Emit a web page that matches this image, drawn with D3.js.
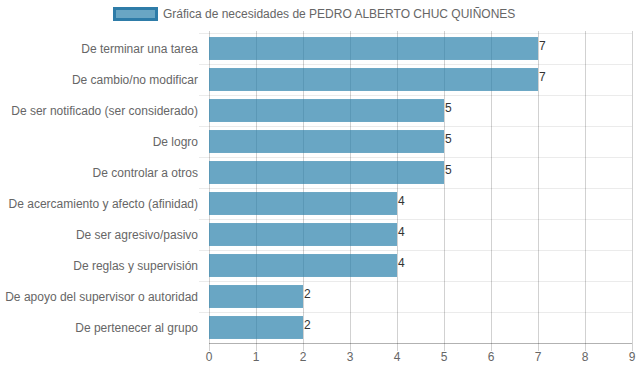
<!DOCTYPE html>
<html>
<head>
<meta charset="utf-8">
<script src="https://cdn.jsdelivr.net/npm/d3@7"></script>
<style>
  body { margin: 0; background: #fff; }
  text { font-family: "Liberation Sans", Arial, sans-serif; }
</style>
</head>
<body>
<svg id="chart" width="639" height="372"></svg>
<script>
// data
var title = "Gráfica de necesidades de PEDRO ALBERTO CHUC QUIÑONES";
var categories = [
    "De terminar una tarea",
    "De cambio/no modificar",
    "De ser notificado (ser considerado)",
    "De logro",
    "De controlar a otros",
    "De acercamiento y afecto (afinidad)",
    "De ser agresivo/pasivo",
    "De reglas y supervisión",
    "De apoyo del supervisor o autoridad",
    "De pertenecer al grupo"
];
var values = [7, 7, 5, 5, 5, 4, 4, 4, 2, 2];
var xTicks = [0, 1, 2, 3, 4, 5, 6, 7, 8, 9];

var margin = {"left": 209, "right": 7, "top": 33, "bottom": 29};
var width = 639 - margin.left - margin.right;
var height = 372 - margin.top - margin.bottom;

var svg = d3.select("#chart");

// legend
var legend = svg.append("g").attr("class", "legend");
legend.append("rect")
    .attr("x", 114.5).attr("y", 8.5)
    .attr("width", 42).attr("height", 11)
    .style("fill", "rgba(42,128,171,0.7)")
    .style("stroke", "#2e7ca8")
    .style("stroke-width", 3);
legend.append("text")
    .attr("x", 163).attr("y", 18)
    .style("font-size", "12px")
    .style("fill", "#666")
    .text(title);

var g = svg.append("g")
    .attr("transform", "translate(" + margin.left + "," + margin.top + ")");

var x = d3.scaleLinear().domain([0, 9]).range([0, width]);
var y = d3.scaleBand().domain(categories).range([0, height])
    .paddingInner(0.26).paddingOuter(0.13);
var band = height / categories.length;

// horizontal grid lines between categories
g.append("g").attr("class", "hgrid")
    .selectAll("line")
    .data(d3.range(categories.length))
    .enter().append("line")
    .attr("x1", -10).attr("x2", width)
    .attr("y1", d => Math.round(d * band) + 0.5)
    .attr("y2", d => Math.round(d * band) + 0.5)
    .style("stroke", "rgba(0,0,0,0.08)");

// vertical grid lines
g.append("g").attr("class", "vgrid")
    .selectAll("line")
    .data(xTicks)
    .enter().append("line")
    .attr("x1", d => Math.round(x(d)) + 0.5)
    .attr("x2", d => Math.round(x(d)) + 0.5)
    .attr("y1", -2).attr("y2", height + 8)
    .style("stroke", "rgba(0,0,0,0.18)");

// x axis line
g.append("line")
    .attr("x1", 0).attr("x2", width)
    .attr("y1", height + 0.5).attr("y2", height + 0.5)
    .style("stroke", "rgba(0,0,0,0.3)");

// bars
g.append("g").attr("class", "bars")
    .selectAll("rect")
    .data(values)
    .enter().append("rect")
    .attr("x", 0)
    .attr("y", (d, i) => y(categories[i]))
    .attr("width", d => x(d))
    .attr("height", y.bandwidth())
    .style("fill", "rgba(42,128,171,0.7)");

// value labels
g.append("g").attr("class", "values")
    .selectAll("text")
    .data(values)
    .enter().append("text")
    .attr("x", d => x(d) + 1)
    .attr("y", (d, i) => y(categories[i]) + y.bandwidth() / 2 + 1)
    .style("font-size", "12px")
    .style("fill", "#333")
    .text(d => d);

// category labels
g.append("g").attr("class", "cats")
    .selectAll("text")
    .data(categories)
    .enter().append("text")
    .attr("x", -11)
    .attr("y", d => y(d) + y.bandwidth() / 2)
    .attr("dy", "0.35em")
    .attr("text-anchor", "end")
    .style("font-size", "12px")
    .style("fill", "#666")
    .text(d => d);

// tick labels
g.append("g").attr("class", "ticks")
    .selectAll("text")
    .data(xTicks)
    .enter().append("text")
    .attr("x", d => x(d))
    .attr("y", height + 18)
    .attr("text-anchor", "middle")
    .style("font-size", "12px")
    .style("fill", "#666")
    .text(d => d);
</script>
</body>
</html>
